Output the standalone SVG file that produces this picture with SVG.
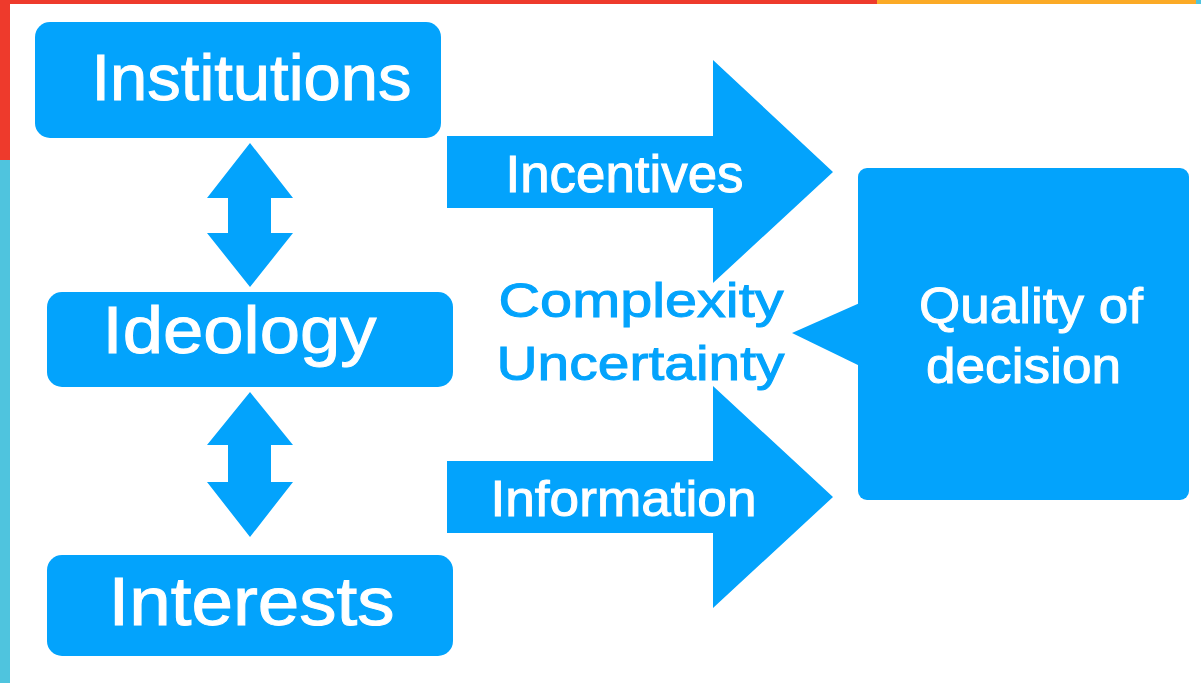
<svg xmlns="http://www.w3.org/2000/svg" width="1201" height="683" viewBox="0 0 1201 683">
<style>
.b{fill:#03A3FC}
.w{fill:#FFFFFF;stroke:#FFFFFF;stroke-width:1;font-family:"Liberation Sans",Arial,sans-serif;text-anchor:middle}
.t{fill:#03A3FC;stroke:#03A3FC;stroke-width:1;font-family:"Liberation Sans",Arial,sans-serif;text-anchor:middle}
</style>
<rect x="0" y="0" width="1201" height="683" fill="#FFFFFF"/>
<g id="frame">
<rect x="0" y="0" width="877" height="4" fill="#EE3A2C"/>
<rect x="877" y="0" width="319" height="4" fill="#FBAA26"/>
<rect x="1196" y="0" width="5" height="4" fill="#4FC4DE"/>
<rect x="0" y="0" width="10" height="160" fill="#EE3A2C"/>
<rect x="0" y="160" width="10" height="523" fill="#4FC4DE"/>
</g>
<g id="connectors">
<polygon class="b" points="250,143 293,198 271,198 271,233 293,233 250,287 207,233 228,233 228,198 207,198"/>
<polygon class="b" points="250,392 293,445 271,445 271,482 293,482 250,537 207,482 228,482 228,445 207,445"/>
<g id="incentives-arrow">
<polygon class="b" points="447,136 713,136 713,60 833,172 713,283 713,208 447,208"/>
<text class="w" x="624.5" y="192" font-size="51" textLength="238" lengthAdjust="spacingAndGlyphs">Incentives</text>
</g>
<g id="information-arrow">
<polygon class="b" points="447,461 713,461 713,386 833,497 713,608 713,533 447,533"/>
<text class="w" x="623.5" y="516" font-size="50" textLength="266" lengthAdjust="spacingAndGlyphs">Information</text>
</g>
</g>
<g id="institutions">
<rect class="b" x="35" y="22" width="406" height="116" rx="15"/>
<text class="w" x="251.5" y="100" font-size="65" textLength="320" lengthAdjust="spacingAndGlyphs">Institutions</text>
</g>
<g id="ideology">
<rect class="b" x="47" y="292" width="406" height="95" rx="15"/>
<text class="w" x="239.5" y="353" font-size="66" textLength="274" lengthAdjust="spacingAndGlyphs">Ideology</text>
</g>
<g id="interests">
<rect class="b" x="47" y="555" width="406" height="101" rx="15"/>
<text class="w" x="251.5" y="625" font-size="68" textLength="286" lengthAdjust="spacingAndGlyphs">Interests</text>
</g>
<g id="complexity">
<text class="t" x="641" y="317" font-size="49" textLength="285" lengthAdjust="spacingAndGlyphs">Complexity</text>
<text class="t" x="640.5" y="380" font-size="49" textLength="288" lengthAdjust="spacingAndGlyphs">Uncertainty</text>
</g>
<g id="quality">
<rect class="b" x="858" y="168" width="331" height="332" rx="9"/>
<polygon class="b" points="862,302 792,333 862,367"/>
<text class="w" x="1031" y="323" font-size="50" textLength="224" lengthAdjust="spacingAndGlyphs">Quality of</text>
<text class="w" x="1023.5" y="383" font-size="50" textLength="195" lengthAdjust="spacingAndGlyphs">decision</text>
</g>
</svg>
